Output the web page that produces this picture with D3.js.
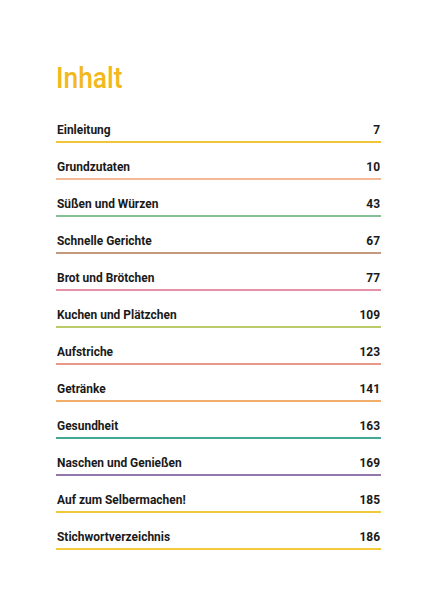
<!DOCTYPE html>
<html lang="de">
<head>
<meta charset="UTF-8">
<script src="https://d3js.org/d3.v7.min.js"></script>
<style>
  body { margin: 0; background: #fff; }
  svg { display: block; font-family: Roboto, sans-serif; }
</style>
</head>
<body>
<script>
const chapters = ["Einleitung", "Grundzutaten", "Süßen und Würzen", "Schnelle Gerichte", "Brot und Brötchen",
  "Kuchen und Plätzchen", "Aufstriche", "Getränke", "Gesundheit", "Naschen und Genießen",
  "Auf zum Selbermachen!", "Stichwortverzeichnis"];
const pages = [7, 10, 43, 67, 77, 109, 123, 141, 163, 169, 185, 186];
const lineColors = ["#f0c53a", "#f2b896", "#86bf95", "#c4987a", "#e891a6", "#bccb6a",
  "#e99888", "#f1ad6a", "#44a993", "#9478ad", "#f2c93a", "#f2c93a"];

const W = 423, H = 600;
const svg = d3.select("body").append("svg").attr("width", W).attr("height", H);

// condensed look: squeeze text horizontally
svg.append("text")
  .attr("transform", "translate(56,88) scale(0.88,1)")
  .attr("fill", "#f2b81c")
  .style("font-size", "30px")
  .style("font-weight", 500)
  .text("Inhalt");

const y = d3.scalePoint().domain(chapters).range([142, 549]);

const row = svg.selectAll("g.row").data(chapters).join("g")
  .attr("class", "row")
  .attr("transform", d => `translate(0,${y(d)})`);

row.append("text")
  .attr("transform", "translate(57,-8) scale(0.92,1)")
  .style("font-size", "13px").style("font-weight", 700)
  .attr("fill", "#1a1a1a")
  .text(d => d);

row.append("text")
  .attr("transform", "translate(380,-8) scale(0.92,1)")
  .attr("text-anchor", "end")
  .style("font-size", "13px").style("font-weight", 700)
  .attr("fill", "#1a1a1a")
  .text((d, i) => pages[i]);

row.append("line")
  .attr("x1", 56).attr("x2", 381)
  .attr("stroke", (d, i) => lineColors[i])
  .attr("stroke-width", 2);
</script>
</body>
</html>
